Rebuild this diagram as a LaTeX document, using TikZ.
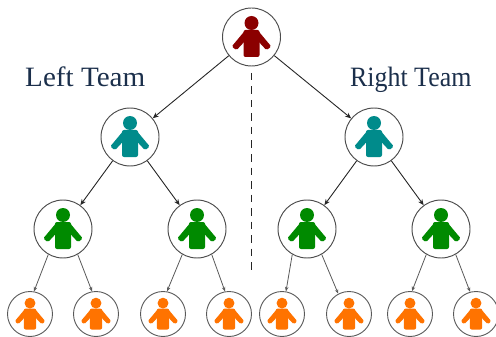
\documentclass[tikz,border=0pt]{standalone}
\usepackage{fontspec}
\setmainfont{Liberation Serif}
\usetikzlibrary{arrows.meta}
\definecolor{rootc}{HTML}{8B0000}
\definecolor{tealc}{HTML}{008B8B}
\definecolor{greenc}{HTML}{008A00}
\definecolor{orangec}{HTML}{FF7300}
\definecolor{titlec}{HTML}{1B2F4B}
\tikzset{
  big/.style={circle,draw=black!70,line width=0.95pt,minimum size=58pt,inner sep=0pt,fill=white},
  small/.style={circle,draw=black!65,line width=0.9pt,minimum size=45pt,inner sep=0pt,fill=white},
  link/.style={draw=black!85,line width=0.9pt,-{Stealth[length=6pt,width=5pt]}},
  thinlink/.style={draw=black!65,line width=0.8pt,-{Stealth[length=4.5pt,width=3.5pt]}},
  title/.style={text=titlec,font=\fontsize{28}{30}\selectfont,inner sep=0pt,anchor=base west},
  pics/person/.style={code={
    \fill[pic actions] (0,-14) circle (7);
    \fill[pic actions,rounded corners=2pt] (-8,-7) rectangle (8,20);
    \fill[pic actions,rounded corners=1.5pt] (-6,-7) -- (-19.8,9.5) -- (-15,13.2) -- (-6,3.5) -- cycle;
    \fill[pic actions,rounded corners=1.5pt] (6,-7) -- (19.8,9.5) -- (15,13.2) -- (6,3.5) -- cycle;
  }}
}
\begin{document}
\begin{tikzpicture}[x=1pt,y=-1pt]
\useasboundingbox (0,0) rectangle (496,337);
\node[big] (r) at (251.5,37) {};
\node[big] (tl) at (130,137) {};
\node[big] (tr) at (374,137) {};
\node[big] (g1) at (63,229) {};
\node[big] (g2) at (197,229) {};
\node[big] (g3) at (307,229) {};
\node[big] (g4) at (441,229) {};
\node[small] (o1) at (30,314) {};
\node[small] (o2) at (96,314) {};
\node[small] (o3) at (163,314) {};
\node[small] (o4) at (229,314) {};
\node[small] (o5) at (282,314) {};
\node[small] (o6) at (349,314) {};
\node[small] (o7) at (410,314) {};
\node[small] (o8) at (476,314) {};
\pic[fill=rootc] at (r) {person};
\pic[fill=tealc] at (tl) {person};
\pic[fill=tealc] at (tr) {person};
\foreach \n in {g1,g2,g3,g4} \pic[fill=greenc] at (\n) {person};
\foreach \n in {o1,o2,o3,o4,o5,o6,o7,o8} \pic[fill=orangec,scale=0.776] at (\n) {person};
\draw[link] (r) -- (tl);
\draw[link] (r) -- (tr);
\draw[link] (tl) -- (g1);
\draw[link] (tl) -- (g2);
\draw[link] (tr) -- (g3);
\draw[link] (tr) -- (g4);
\draw[thinlink] (g1.240) -- (o1.80);
\draw[thinlink] (g1.300) -- (o2.100);
\draw[thinlink] (g2.240) -- (o3.80);
\draw[thinlink] (g2.300) -- (o4.100);
\draw[thinlink] (g3.240) -- (o5.80);
\draw[thinlink] (g3.300) -- (o6.118);
\draw[thinlink] (g4.240) -- (o7.85);
\draw[thinlink] (g4.300) -- (o8.105);
\coordinate (dtop) at (251.5,73);
\coordinate (dbot) at (251.5,275);
\draw[black!85,line width=1pt,dash pattern=on 7.5pt off 6pt] (dtop) -- (dbot);
\node[title,xscale=1.04] (lt) at (25,87) {Left Team};
\node[title,xscale=0.925] (rt) at (350,87) {Right Team};
\end{tikzpicture}
\end{document}
